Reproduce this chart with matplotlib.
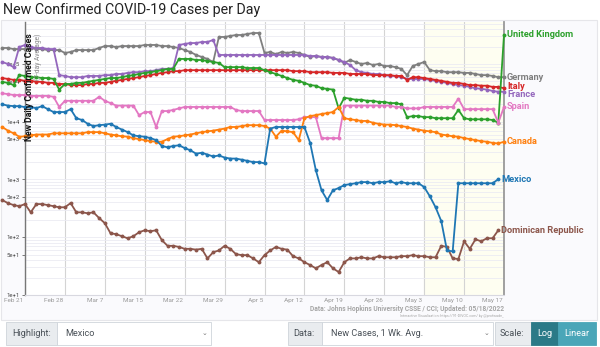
import matplotlib.pyplot as plt
import numpy as np
from matplotlib.patches import Rectangle

plt.rcParams['font.family'] = ['Roboto', 'DejaVu Sans']

# daily data from Feb 17 2022 (7-day avg, thousands of cases)
days = np.arange(89)
tick_days = 4 + 7 * np.arange(13)
tick_labels = ['Feb 21', 'Feb 28', 'Mar 7', 'Mar 15', 'Mar 22', 'Mar 29', 'Apr 5',
               'Apr 12', 'Apr 19', 'Apr 26', 'May 3', 'May 10', 'May 17']

germany = [189, 189, 181, 181, 181, 189, 181, 181, 174, 174,
           174, 155, 161, 174, 174, 174, 174, 189, 204, 204,
           196, 204, 204, 204, 204, 213, 213, 213, 204, 204,
           196, 189, 174, 161, 143, 132, 122, 108, 293, 293,
           305, 317, 317, 330, 343, 343, 155, 161, 148, 161,
           155, 161, 155, 143, 132, 137, 132, 132, 127, 117,
           104, 117, 108, 99.8, 104, 95.7, 99.8, 92, 92, 88,
           82, 64, 92, 99.8, 108, 78, 75, 75, 72, 72,
           72, 70, 70, 67, 64, 64, 62, 59, 59]
france = [108, 99.8, 88, 196, 213, 196, 189, 189, 181, 181,
          64, 62, 59, 59, 59, 62, 62, 62, 64, 64,
          67, 67, 70, 72, 72, 75, 75, 78, 82, 82,
          85, 213, 222, 230, 230, 240, 240, 260, 143, 143,
          143, 143, 143, 143, 143, 143, 143, 143, 143, 143,
          143, 143, 143, 143, 137, 137, 132, 132, 127, 117,
          108, 95.7, 78, 72, 70, 67, 67, 64, 62, 62,
          59, 55, 55, 55, 55, 53, 51, 49, 47, 45,
          43, 42, 40, 38, 37, 36, 34, 33, 33]
italy = [57, 55, 53, 53, 51, 51, 49, 49, 47, 47,
         45, 45, 43, 43, 43, 45, 45, 47, 47, 49,
         51, 53, 55, 57, 59, 62, 64, 67, 70, 72,
         75, 75, 78, 78, 78, 78, 78, 78, 78, 78,
         78, 78, 78, 78, 78, 78, 78, 78, 78, 78,
         78, 75, 75, 75, 72, 72, 72, 72, 70, 70,
         70, 67, 67, 67, 67, 64, 64, 64, 64, 62,
         62, 53, 59, 59, 57, 55, 53, 51, 49, 47,
         47, 45, 43, 43, 42, 42, 40, 40, 38]
uk = [49, 47, 43, 64, 62, 59, 59, 57, 57, 55,
      36, 45, 45, 47, 47, 49, 51, 53, 55, 57,
      57, 59, 62, 64, 67, 70, 72, 75, 78, 82,
      82, 122, 122, 122, 117, 117, 112, 108, 104, 88,
      88, 88, 88, 85, 85, 85, 78, 72, 67, 62,
      57, 53, 51, 47, 43, 42, 38, 37, 36, 17,
      26, 25, 24, 24, 23, 23, 22, 22, 21, 21,
      20, 12, 12.5, 12.5, 12, 12, 11.5, 11.5, 11.5, 11.5,
      16, 11.5, 11, 11, 11, 11, 10.7, 9.6, 317]
spain = [31, 30, 29, 29, 29, 28, 28, 28, 28, 27,
         18, 23, 23, 23, 23, 23, 23, 27, 23, 21,
         19, 19, 19, 19, 13, 14.7, 14.7, 8.1, 15.3, 15.3,
         16, 17, 18, 18, 18, 18, 18, 18, 18, 18,
         18, 16, 15.3, 15.3, 15.3, 15.3, 10.7, 10.7, 10.7, 10.7,
         10.7, 10.7, 11, 12, 12, 12, 5.2, 5.2, 5.2, 5.2,
         19, 19, 19, 19, 19, 19, 19, 19, 19, 18,
         18, 17, 17, 17, 18, 18, 18, 18, 18, 18,
         25, 16.5, 16.5, 16.5, 16.5, 16.5, 16.5, 9.6, 18]
canada = [8.1, 7.0, 6.3, 5.5, 5.6, 5.8, 6.0, 6.0, 6.0, 6.3,
          6.3, 6.3, 6.3, 6.3, 6.3, 6.6, 6.6, 6.6, 6.3, 6.0,
          5.8, 5.6, 5.5, 5.2, 5.0, 4.8, 4.6, 4.5, 4.5, 5.0,
          5.5, 5.6, 5.8, 6.0, 6.3, 6.6, 6.8, 7.0, 7.3, 7.6,
          8.1, 8.1, 8.4, 8.7, 8.7, 8.7, 8.4, 7.6, 5.5, 7.0,
          6.8, 6.6, 4.8, 11.5, 12.5, 13, 13.6, 14.1, 14.7, 18,
          11.5, 11, 10.7, 10.3, 10.3, 9.6, 9.2, 8.9, 8.9, 8.7,
          8.4, 8.1, 7.6, 7.3, 7.0, 6.8, 6.6, 6.0, 5.8, 5.6,
          5.5, 5.2, 5.0, 4.8, 4.6, 4.5, 4.3, 4.2, 4.5]
# these two stop a day earlier (last report May 16)
mexico = [20, 19, 18.6, 18.6, 17.9, 17.9, 17.2, 18.6, 16.5, 14.7,
          14.7, 14.7, 16.5, 11.5, 10.7, 9.2, 8.4, 8.7, 8.9, 9.2,
          8.1, 7.3, 6.6, 5.8, 5.6, 5.5, 5.2, 4.8, 3.8, 3.6,
          3.8, 3.9, 3.5, 3.2, 2.8, 2.9, 2.7, 2.5, 2.6, 2.4,
          2.3, 2.3, 2.2, 2.1, 2.0, 2.0, 1.9, 7.6, 8.1, 8.1,
          8.1, 8.1, 8.1, 8.1, 4.3, 1.45, 0.65, 0.44, 0.65, 0.71,
          0.80, 0.83, 0.86, 0.90, 0.90, 0.86, 0.90, 0.90, 0.93, 0.86,
          0.90, 0.86, 0.86, 0.86, 0.74, 0.51, 0.33, 0.19, 0.059, 0.057,
          0.86, 0.86, 0.86, 0.86, 0.86, 0.86, 0.86, 1.01]
dominican = [0.44, 0.39, 0.36, 0.345, 0.375, 0.27, 0.375, 0.375, 0.36, 0.345,
             0.33, 0.33, 0.39, 0.27, 0.27, 0.26, 0.27, 0.215, 0.175, 0.117,
             0.113, 0.104, 0.096, 0.104, 0.122, 0.132, 0.127, 0.132, 0.089, 0.071,
             0.071, 0.068, 0.063, 0.063, 0.061, 0.063, 0.043, 0.055, 0.059, 0.071,
             0.063, 0.051, 0.049, 0.049, 0.043, 0.037, 0.049, 0.059, 0.068, 0.063,
             0.061, 0.047, 0.043, 0.037, 0.033, 0.029, 0.033, 0.037, 0.029, 0.025,
             0.037, 0.043, 0.043, 0.045, 0.043, 0.043, 0.047, 0.045, 0.045, 0.045,
             0.047, 0.047, 0.049, 0.047, 0.047, 0.045, 0.045, 0.071, 0.068, 0.043,
             0.042, 0.085, 0.063, 0.092, 0.085, 0.096, 0.096, 0.132]

series = [
    ('Germany', germany, '#7f7f7f'),
    ('France', france, '#9467bd'),
    ('Italy', italy, '#d62728'),
    ('United Kingdom', uk, '#2ca02c'),
    ('Spain', spain, '#e377c2'),
    ('Canada', canada, '#ff7f0e'),
    ('Dominican Republic', dominican, '#8c564b'),
    ('Mexico', mexico, '#1f77b4'),
]
label_nudge = {'Italy': 1.0, 'France': -2.0}

W, H = 600, 347
fig = plt.figure(figsize=(6, 3.47), dpi=100)
fig.patch.set_facecolor('white')

def fx(px):
    return px / W

def fy(py):
    return 1 - py / H

# chart card behind everything
fig.patches.append(Rectangle((fx(1), fy(320)), fx(596), (320 - 20) / H, transform=fig.transFigure,
                             facecolor='#fafafd', edgecolor='#e6e6ea', lw=0.8, zorder=-5))

ax = fig.add_axes([fx(25), fy(295), fx(504 - 25), (295 - 22) / H])
ax.set_facecolor('white')
ax.set_yscale('log')
ax.set_xlim(4, 88)
ax.set_ylim(10, 532000)

# highlighted recent weeks
ax.axvspan(74, 88, color='#fefef1', zorder=0)

ax.set_xticks(tick_days)
ax.set_xticklabels([])
for d, lab in zip(tick_days, tick_labels):
    ax.text(d - 0.3, -0.012, lab, transform=ax.get_xaxis_transform(), ha='right', va='top',
            fontsize=4.6, color='#9a9a9a')
ax.tick_params(axis='x', length=0)
ax.grid(axis='x', color='#d4d4d4', lw=0.8)

major = [10, 50, 100, 500, 1000, 5000, 10000, 50000, 100000]
ax.set_yticks(major)
ax.set_yticklabels(['1e+1', '5e+1', '1e+2', '5e+2', '1e+3', '5e+3', '1e+4', '5e+4', '1e+5'],
                   fontsize=4.3, color='#444')
ax.tick_params(axis='y', which='major', length=2.5, width=0.6, color='#666', pad=1)
ax.tick_params(axis='y', which='minor', length=0)
ax.yaxis.set_minor_locator(plt.matplotlib.ticker.LogLocator(base=10, subs=np.arange(2, 10)))
ax.yaxis.set_minor_formatter(plt.NullFormatter())
ax.grid(axis='y', which='both', color='#ebebf3', lw=0.6)
ax.set_axisbelow(True)

ax.spines['top'].set_visible(False)
ax.spines['left'].set_color('#777')
ax.spines['left'].set_linewidth(1.0)
ax.spines['bottom'].set_color('#d8d8e0')
ax.spines['bottom'].set_linewidth(0.8)
ax.spines['right'].set_color('#999')
ax.spines['right'].set_linewidth(1.3)

for name, vals, color in series:
    y = np.array(vals) * 1000
    x = days[:len(y)]
    ax.plot(x, y, color=color, lw=1.3, marker='o', ms=2.8, mew=0, clip_on=False, zorder=3)
    ax.annotate(name, (x[-1], y[-1]), xytext=(2.2, label_nudge.get(name, 0)),
                textcoords='offset points', ha='left', va='center', fontsize=6.7,
                fontweight='bold', color=color, annotation_clip=False)

# rotated axis title
fig.text(fx(30), fy(33), 'New Daily Confirmed Cases', rotation=90, ha='center', va='top',
         fontsize=6.3, fontweight='bold', color='#111')
fig.text(fx(38), fy(34), '(7-day Average)', rotation=90, ha='center', va='top',
         fontsize=4.8, color='#888')

fig.text(fx(3), fy(10), 'New Confirmed COVID-19 Cases per Day', ha='left', va='center',
         fontsize=10.3, color='#222')

fig.text(fx(504), fy(309), 'Data: Johns Hopkins University CSSE / CCI; Updated: 05/18/2022',
         ha='right', va='center', fontsize=4.8, fontweight='bold', color='#a6a6a6')
fig.text(fx(504), fy(316), 'Interactive Visualization: https://91-DIVOC.com/ by @profwade_',
         ha='right', va='center', fontsize=2.6, color='#a6a6a6')

# controls below the chart
def box(x0, x1, face, edge='#ced4da', y0=322, y1=345):
    fig.patches.append(Rectangle((fx(x0), fy(y1)), fx(x1 - x0), (y1 - y0) / H,
                                 transform=fig.transFigure, facecolor=face, edgecolor=edge, lw=0.6))

box(6, 57, '#e9ecef')
box(57, 211, 'white')
box(288, 322, '#e9ecef')
box(322, 493, 'white')
box(495, 531, '#e9ecef')
box(531, 558, '#2b7a87', edge='#2b7a87')
box(558, 596, '#4aa6b8', edge='#4aa6b8')

ui = dict(va='center', fontsize=6.6, color='#495057')
fig.text(fx(12), fy(333.5), 'Highlight:', **ui)
fig.text(fx(65), fy(333.5), 'Mexico', **ui)
fig.text(fx(204), fy(333.5), '\u2304', ha='center', va='center', fontsize=5, color='#777')
fig.text(fx(293), fy(333.5), 'Data:', **ui)
fig.text(fx(331), fy(333.5), 'New Cases, 1 Wk. Avg.', **ui)
fig.text(fx(486), fy(333.5), '\u2304', ha='center', va='center', fontsize=5, color='#777')
fig.text(fx(500), fy(333.5), 'Scale:', **ui)
fig.text(fx(544.5), fy(333.5), 'Log', ha='center', va='center', fontsize=6.6, color='white')
fig.text(fx(577), fy(333.5), 'Linear', ha='center', va='center', fontsize=6.6, color='white')

fig.savefig('out.png', dpi=100)
